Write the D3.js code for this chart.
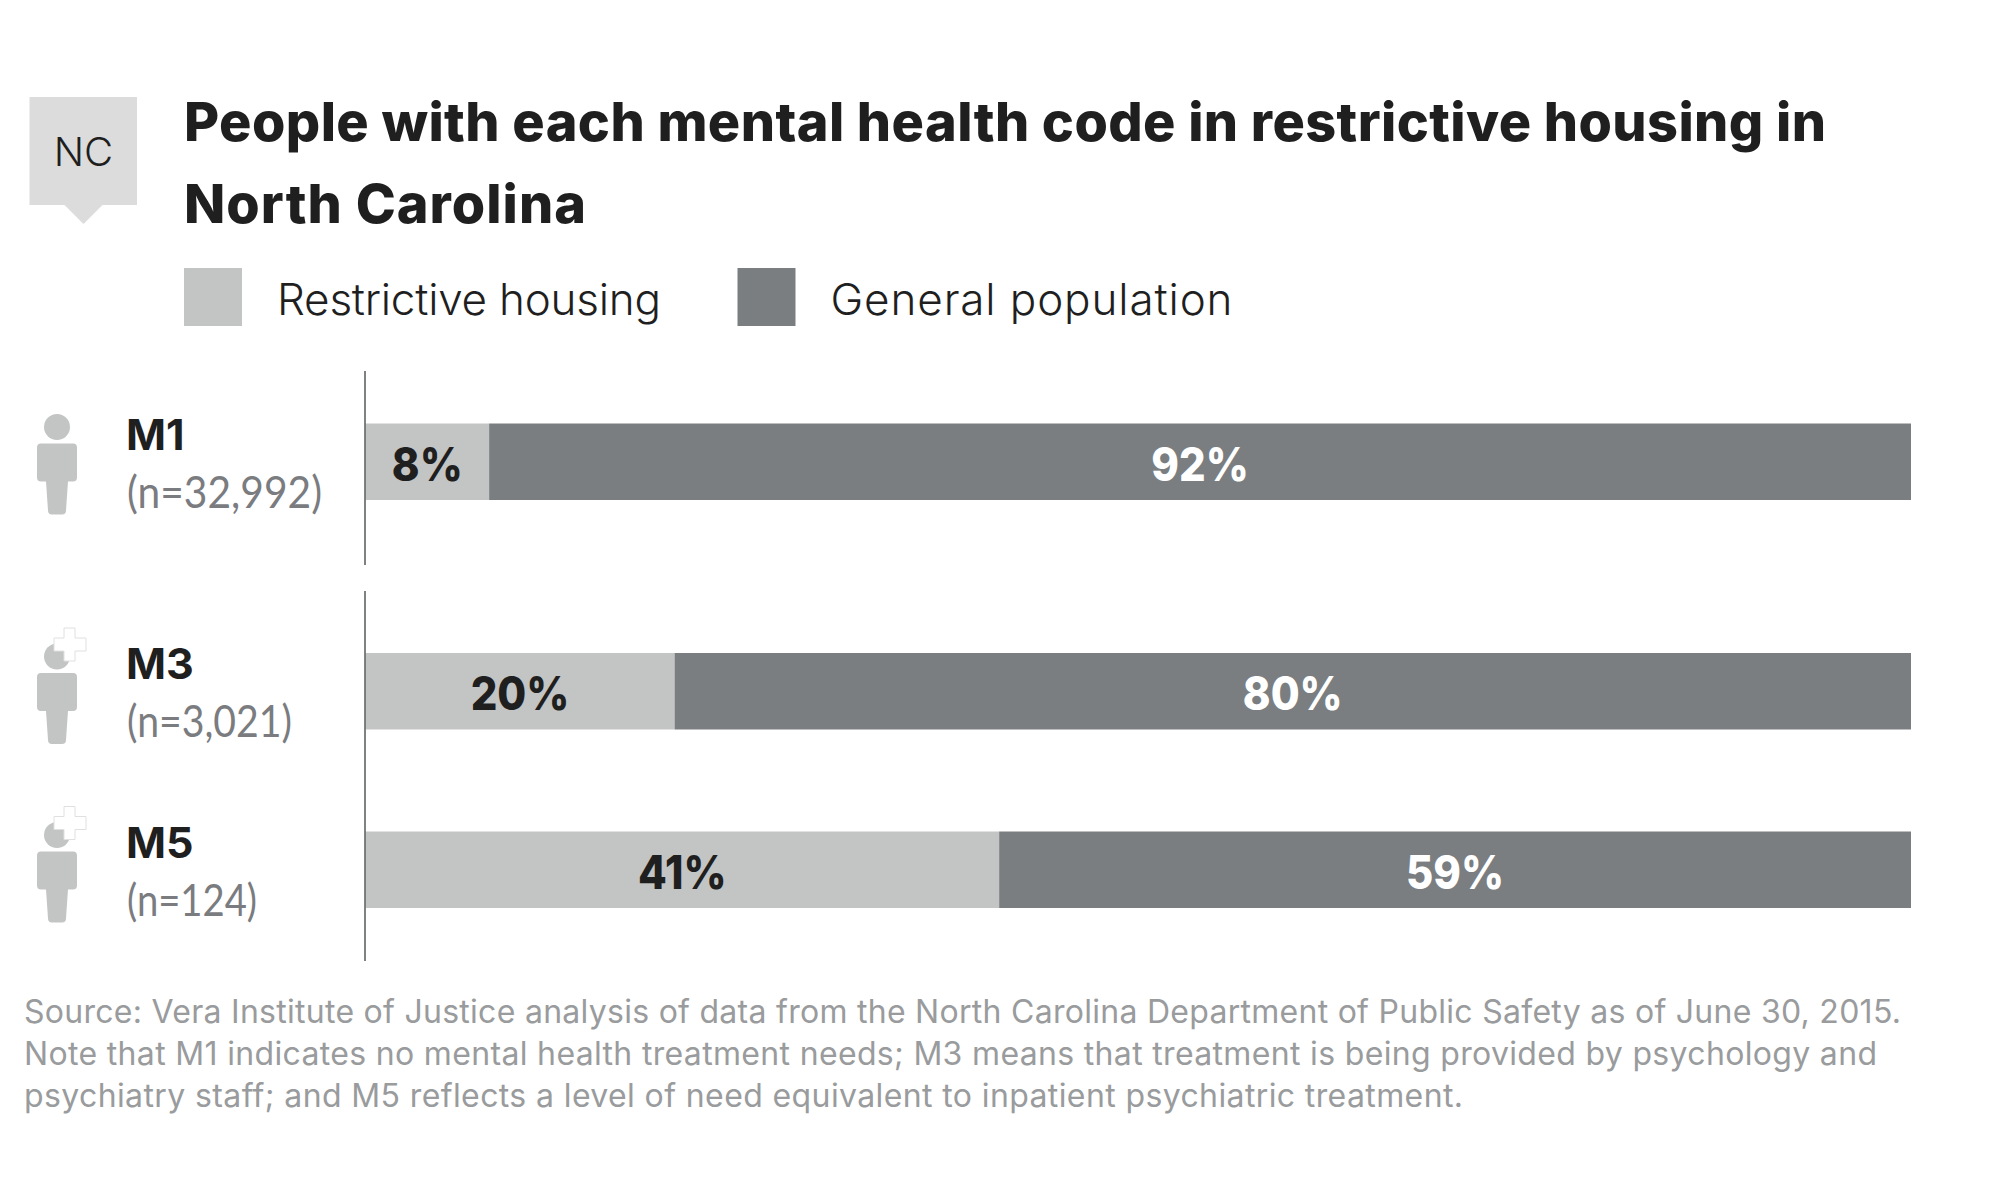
<!DOCTYPE html>
<html>
<head>
<meta charset="utf-8">
<script src="https://cdnjs.cloudflare.com/ajax/libs/d3/7.8.5/d3.min.js"></script>
<style>
  html, body { margin: 0; padding: 0; background: #fff; }
  svg { display: block; }
  text { font-family: Inter, sans-serif; }
</style>
</head>
<body>
<script>
var codes = ["M1", "M3", "M5"];
var counts = ["(n=32,992)", "(n=3,021)", "(n=124)"];
var restrictive = [8, 20, 41];
var general = [92, 80, 59];
var seriesNames = ["Restrictive housing", "General population"];
var titleLines = ["People with each mental health code in restrictive housing in", "North Carolina"];
var noteLines = [
  "Source: Vera Institute of Justice analysis of data from the North Carolina Department of Public Safety as of June 30, 2015.",
  "Note that M1 indicates no mental health treatment needs; M3 means that treatment is being provided by psychology and",
  "psychiatry staff; and M5 reflects a level of need equivalent to inpatient psychiatric treatment."
];

var width = 2000, height = 1186;
var lightGrey = "#c3c5c4", darkGrey = "#7a7e81", ink = "#1f1f1f";

var svg = d3.select("body").append("svg")
    .attr("width", width)
    .attr("height", height);

// state badge
svg.append("path")
    .attr("d", "M29.5,97H137V205H102.5L83.5,224L64.5,205H29.5Z")
    .attr("fill", "#dcdcdc");
svg.append("text")
    .attr("x", 83.5).attr("y", 166)
    .attr("text-anchor", "middle")
    .attr("font-size", 40).attr("font-weight", 300)
    .attr("fill", ink)
    .text("NC");

// title
var titleLengths = [1642, 402];
svg.selectAll(".title").data(titleLines).enter().append("text")
    .attr("class", "title")
    .attr("x", 184)
    .attr("y", function(d, i) { return 140.5 + i * 82; })
    .attr("font-size", 54).attr("font-weight", 800)
    .attr("textLength", function(d, i) { return titleLengths[i]; })
    .attr("fill", ink)
    .text(function(d) { return d; });

// legend
var legendX = d3.scaleOrdinal().domain(seriesNames).range([184, 737.5]);
var legendLengths = [384, 402];
var color = d3.scaleOrdinal().domain(seriesNames).range([lightGrey, darkGrey]);
var legend = svg.selectAll(".legend").data(seriesNames).enter().append("g")
    .attr("class", "legend")
    .attr("transform", function(d) { return "translate(" + legendX(d) + ",268)"; });
legend.append("rect")
    .attr("width", 58).attr("height", 58)
    .attr("fill", function(d) { return color(d); });
legend.append("text")
    .attr("x", 93)
    .attr("y", 47)
    .attr("font-size", 44).attr("font-weight", 300)
    .attr("textLength", function(d, i) { return legendLengths[i]; })
    .attr("fill", ink)
    .text(function(d) { return d; });

// bars
var x = d3.scaleLinear().domain([0, 100]).range([365.5, 1911]);
var y = d3.scaleOrdinal().domain(codes).range([423.5, 653, 831.5]);
var barHeight = 76.5;

var rows = codes.map(function(c, i) {
  var r = { code: c, count: counts[i] };
  r[seriesNames[0]] = restrictive[i];
  r[seriesNames[1]] = general[i];
  return r;
});
var stacked = d3.stack().keys(seriesNames)(rows);

var layers = svg.selectAll(".layer").data(stacked).enter().append("g")
    .attr("class", "layer")
    .attr("fill", function(d) { return color(d.key); });
layers.selectAll("rect").data(function(d) { return d; }).enter().append("rect")
    .attr("x", function(d) { return x(d[0]); })
    .attr("y", function(d) { return y(d.data.code); })
    .attr("width", function(d) { return x(d[1]) - x(d[0]); })
    .attr("height", barHeight);
layers.selectAll("text").data(function(d) { return d; }).enter().append("text")
    .attr("x", function(d) { return (x(d[0]) + x(d[1])) / 2; })
    .attr("y", function(d) { return y(d.data.code) + 57; })
    .attr("text-anchor", "middle")
    .attr("font-size", 46).attr("font-weight", 800)
    .attr("fill", function() { return d3.select(this.parentNode).datum().key === seriesNames[0] ? ink : "#fff"; })
    .text(function(d) { return (d[1] - d[0]) + "%"; })
    .attr("lengthAdjust", "spacingAndGlyphs")
    .attr("textLength", function() { return this.getComputedTextLength() * 0.91; });

// axis segments
[[371, 565], [591, 961]].forEach(function(seg) {
  svg.append("line")
      .attr("x1", 365).attr("x2", 365)
      .attr("y1", seg[0]).attr("y2", seg[1])
      .attr("stroke", "#55585a").attr("stroke-width", 1.5);
});

// row labels and icons
var countLengths = [195, 165, 130];
var row = svg.selectAll(".row").data(rows).enter().append("g")
    .attr("class", "row")
    .attr("transform", function(d) { return "translate(0," + y(d.code) + ")"; });
row.append("text")
    .attr("x", 126).attr("y", 26)
    .attr("font-size", 43).attr("font-weight", 700)
    .attr("fill", ink)
    .text(function(d) { return d.code; });
row.append("text")
    .attr("x", 127).attr("y", 84)
    .attr("font-size", 44).attr("font-weight", 400)
    .style("font-family", "Lato, sans-serif")
    .attr("lengthAdjust", "spacingAndGlyphs")
    .attr("textLength", function(d, i) { return countLengths[i]; })
    .attr("fill", "#7a7c7f")
    .text(function(d) { return d.count; });

row.append("circle")
    .attr("cx", 57).attr("cy", 3.5).attr("r", 13)
    .attr("fill", lightGrey);
row.append("path")
    .attr("d", "M41,20H73Q77,20 77,24V54Q77,58 73,58H68L66,87Q66,91 62,91H52Q48,91 48,87L46,58H41Q37,58 37,54V24Q37,20 41,20Z")
    .attr("fill", lightGrey);
row.filter(function(d) { return d.code !== "M1"; }).append("path")
    .attr("d", "M64,-25H75V-15H86V-2H75V8H64V-2H54V-15H64Z")
    .attr("fill", "#fff")
    .attr("stroke", "#dfe0e0").attr("stroke-width", 1);

// footnote
var noteLengths = [1877, 1853, 1439];
svg.selectAll(".note").data(noteLines).enter().append("text")
    .attr("class", "note")
    .attr("x", 24)
    .attr("y", function(d, i) { return 1023 + i * 42; })
    .attr("font-size", 32).attr("font-weight", 400)
    .attr("textLength", function(d, i) { return noteLengths[i]; })
    .attr("fill", "#999b9d")
    .text(function(d) { return d; });
</script>
</body>
</html>
